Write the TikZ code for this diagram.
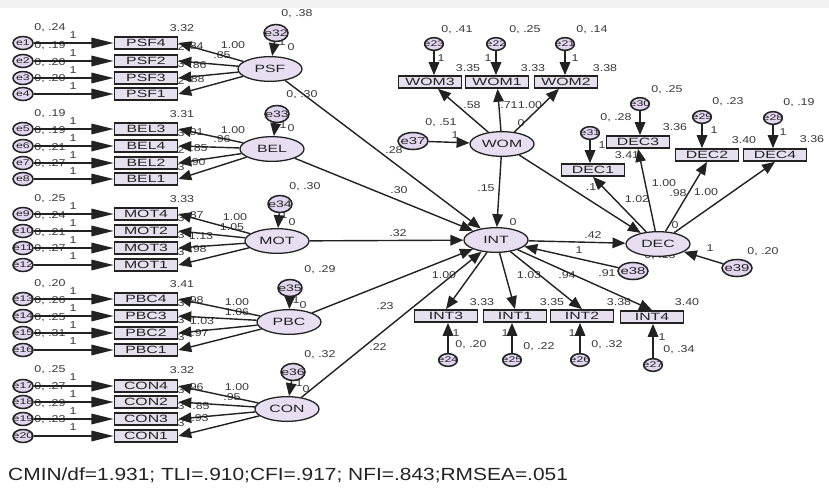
\documentclass[tikz,border=0pt]{standalone}
\usepackage{fontspec}
\setmainfont{Liberation Sans}[FakeStretch=1.5]
\newfontfamily\labfont{Liberation Sans}[FakeStretch=1.25]
\newfontfamily\footfont{Liberation Sans}[FakeStretch=1.19]
\usetikzlibrary{shapes.geometric,arrows.meta}
\definecolor{latfill}{HTML}{E8DEF2}
\definecolor{boxfill}{HTML}{E6E0EE}
\definecolor{errfill}{HTML}{E2D6EE}
\definecolor{ink}{HTML}{222222}
\definecolor{lab}{HTML}{383838}
\newcommand\zw[1]{\makebox[0pt]{#1}}
\begin{document}
\begin{tikzpicture}[x=0.03cm,y=-0.03cm,
 lat/.style={ellipse,draw=ink,line width=1.1pt,fill=latfill,minimum width=1.92cm,minimum height=0.74cm,inner sep=0pt,font=\fontsize{9}{9}\selectfont,text=ink},
 obs/.style={rectangle,draw=ink,line width=1.5pt,fill=boxfill,minimum width=1.89cm,minimum height=0.36cm,inner sep=0pt,font=\fontsize{9}{9}\selectfont,text=ink},
 err/.style={ellipse,draw=ink,line width=1.3pt,fill=errfill,minimum width=0.6cm,minimum height=0.39cm,inner sep=0pt,font=\fontsize{7}{7}\selectfont,text=ink},
 lerr/.style={err,minimum width=0.72cm,minimum height=0.51cm,font=\fontsize{8}{8}\selectfont},
 berr/.style={err,minimum width=0.9cm,minimum height=0.51cm,font=\fontsize{8.5}{8.5}\selectfont},
 serr/.style={err,minimum width=0.56cm,minimum height=0.38cm},
 lb/.style={inner sep=0pt,font=\labfont\fontsize{8.5}{9}\selectfont,text=lab},
 arr/.style={-{Triangle[length=11pt,width=9pt]},line width=1.2pt,draw=ink},
 harr/.style={-{Triangle[length=19pt,width=9pt]},line width=1.2pt,draw=ink},
]
\useasboundingbox (0,0) rectangle (829,493);
\fill[white] (0,0) rectangle (829,493);
\fill[black!5] (0,0) rectangle (829,8);

% ---------- labels (drawn first) ----------
% PSF group
\node[lb] (l1) at (50,28) {0, .24}; \node[lb] (l1a) at (73,35) {1};
\node[lb] (l2) at (50,46) {0, .19}; \node[lb] (l2a) at (73,53) {1};
\node[lb] (l3) at (50,63) {0, .20}; \node[lb] (l3a) at (73,70) {1};
\node[lb] (l4) at (50,79) {0, .20}; \node[lb] (l4a) at (73,86) {1};
\node[lb] (i1) at (182,28) {3.32};
\node[lb] (d1) at (181,47) {2}; \node[lb] (d2) at (181,64) {3}; \node[lb] (d3) at (181,81) {2};
\node[lb] (p1) at (195,46) {.84}; \node[lb] (p2) at (233,45) {1.00}; \node[lb] (p3) at (222,55) {.85};
\node[lb] (p4) at (198,65) {.86}; \node[lb] (p5) at (196,79) {.88};
\node[lb] (v32) at (297,14) {0, .38}; \node[lb] (o32a) at (282,42) {1}; \node[lb] (o32b) at (291,47) {0};
% BEL group
\node[lb] (l5) at (50,114) {0, .19}; \node[lb] (l5a) at (73,121) {1};
\node[lb] (l6) at (50,131) {0, .19}; \node[lb] (l6a) at (73,138) {1};
\node[lb] (l7) at (50,148) {0, .21}; \node[lb] (l7a) at (73,155) {1};
\node[lb] (l8) at (50,164) {0, .27}; \node[lb] (l8a) at (73,171) {1};
\node[lb] (i2) at (182,114) {3.31};
\node[lb] (d4) at (181,133) {3}; \node[lb] (d5) at (181,150) {2}; \node[lb] (d6) at (181,167) {3};
\node[lb] (p6) at (195,132) {.91}; \node[lb] (p7) at (233,130) {1.00}; \node[lb] (p8) at (222,139) {.96};
\node[lb] (p9) at (199,148) {.85}; \node[lb] (p10) at (197,162) {.90};
\node[lb] (v33) at (302,95) {0, .30}; \node[lb] (o33a) at (283,125) {1}; \node[lb] (o33b) at (291,128) {0};
% MOT group
\node[lb] (l9) at (50,199) {0, .25}; \node[lb] (l9a) at (73,206) {1};
\node[lb] (l10) at (50,216) {0, .24}; \node[lb] (l10a) at (73,223) {1};
\node[lb] (l11) at (50,233) {0, .21}; \node[lb] (l11a) at (73,240) {1};
\node[lb] (l12) at (50,249) {0, .27}; \node[lb] (l12a) at (73,256) {1};
\node[lb] (i3) at (182,199) {3.33};
\node[lb] (d7) at (181,218) {3}; \node[lb] (d8) at (181,235) {3}; \node[lb] (d9) at (181,252) {3};
\node[lb] (p11) at (195,215) {.87}; \node[lb] (p12) at (235,217) {1.00}; \node[lb] (p13) at (232,227) {1.05};
\node[lb] (p14) at (201,236) {1.13}; \node[lb] (p15) at (198,249) {.98};
\node[lb] (v34) at (305,187) {0, .30}; \node[lb] (o34a) at (284,215) {1}; \node[lb] (o34b) at (292,222) {0};
% PBC group
\node[lb] (l13) at (50,284) {0, .20}; \node[lb] (l13a) at (73,291) {1};
\node[lb] (l14) at (50,301) {0, .26}; \node[lb] (l14a) at (73,308) {1};
\node[lb] (l15) at (50,318) {0, .25}; \node[lb] (l15a) at (73,325) {1};
\node[lb] (l16) at (50,334) {0, .31}; \node[lb] (l16a) at (73,341) {1};
\node[lb] (i4) at (182,284) {3.41};
\node[lb] (d10) at (181,303) {3}; \node[lb] (d11) at (181,320) {3}; \node[lb] (d12) at (181,337) {3};
\node[lb] (p16) at (195,300) {.98}; \node[lb] (p17) at (237,302) {1.00}; \node[lb] (p18) at (237,312) {1.06};
\node[lb] (p19) at (202,321) {1.03}; \node[lb] (p20) at (200,333) {.97};
\node[lb] (v35) at (320,270) {0, .29}; \node[lb] (o35a) at (296,300) {1}; \node[lb] (o35b) at (303,305) {0};
% CON group
\node[lb] (l17) at (50,370) {0, .25}; \node[lb] (l17a) at (73,377) {1};
\node[lb] (l18) at (50,387) {0, .27}; \node[lb] (l18a) at (73,394) {1};
\node[lb] (l19) at (50,404) {0, .29}; \node[lb] (l19a) at (73,411) {1};
\node[lb] (l20) at (50,420) {0, .23}; \node[lb] (l20a) at (73,427) {1};
\node[lb] (i5) at (182,370) {3.32};
\node[lb] (d13) at (181,390) {3}; \node[lb] (d14) at (181,406) {3}; \node[lb] (d15) at (181,423) {3};
\node[lb] (p21) at (195,387) {.96}; \node[lb] (p22) at (237,387) {1.00}; \node[lb] (p23) at (232,397) {.95};
\node[lb] (p24) at (201,406) {.85}; \node[lb] (p25) at (200,418) {.93};
\node[lb] (v36) at (320,355) {0, .32}; \node[lb] (o36a) at (299,383) {1}; \node[lb] (o36b) at (306,389) {0};
% structural paths
\node[lb] (c1) at (399,190) {.30};
\node[lb] (c2) at (398,233) {.32};
\node[lb] (c3) at (385,306) {.23};
\node[lb] (c4) at (378,347) {.22};
% WOM
\node[lb] (v23) at (457,30) {0, .41}; \node[lb] (v22) at (525,30) {0, .25}; \node[lb] (v21) at (592,30) {0, .14};
\node[lb] (o23) at (441,58) {1}; \node[lb] (o22) at (488,58) {1}; \node[lb] (o21) at (575,58) {1};
\node[lb] (i23) at (468,68) {3.35}; \node[lb] (i22) at (533,68) {3.33}; \node[lb] (i21) at (605,68) {3.38};
\node[lb] (w1) at (472,105) {.58}; \node[lb] (w2) at (509,105) {.71}; \node[lb] (w3) at (530,105) {1.00};
\node[lb] (w0) at (521,123) {0};
\node[lb] (v37) at (441,123) {0, .51}; \node[lb] (o37) at (455,135) {1}; \node[lb] (w4) at (394,150) {.28};
\node[lb] (w5) at (486,188) {.15}; \node[lb] (n0) at (513,222) {0};
% INT
\node[lb] (t1) at (444,275) {1.00}; \node[lb] (t2) at (529,275) {1.03}; \node[lb] (t3) at (567,275) {.94};
\node[lb] (t4) at (607,273) {.91};
\node[lb] (j3) at (482,302) {3.33}; \node[lb] (j1) at (552,302) {3.35}; \node[lb] (j2) at (619,302) {3.38};
\node[lb] (j4) at (687,302) {3.40};
\node[lb] (q24) at (456,333) {1}; \node[lb] (q25) at (505,333) {1}; \node[lb] (q26) at (572,333) {1};
\node[lb] (q27) at (662,337) {1};
\node[lb] (v24) at (471,345) {0, .20}; \node[lb] (v25) at (539,347) {0, .22}; \node[lb] (v26) at (607,345) {0, .32};
\node[lb] (v27) at (679,350) {0, .34};
\node[lb] (k1) at (593,235) {.42}; \node[lb] (k2) at (579,250) {1};
% DEC
\node[lb] (v30) at (667,90) {0, .25}; \node[lb] (v31) at (616,118) {0, .28};
\node[lb] (v29) at (728,102) {0, .23}; \node[lb] (v28) at (799,103) {0, .19};
\node[lb] (o31) at (602,145) {1}; \node[lb] (o29) at (714,130) {1}; \node[lb] (o28) at (783,132) {1};
\node[lb] (g3) at (675,127) {3.36}; \node[lb] (g2) at (744,140) {3.40}; \node[lb] (g4) at (812,139) {3.36};
\node[lb] (g1) at (627,155) {3.41};
\node[lb] (h1) at (664,183) {1.00}; \node[lb] (h2) at (678,193) {.98}; \node[lb] (h3) at (706,192) {1.00};
\node[lb] (h4) at (637,199) {1.02}; \node[lb] (h5) at (591,187) {.1};
\node[lb] (h6) at (675,225) {0};
\node[lb] (v38) at (660,256) {0, .13};
\node[lb] (o39) at (710,248) {1}; \node[lb] (v39) at (763,252) {0, .20};

% ---------- nodes ----------
\node[obs] (PSF4) at (146,43) {PSF4};
\node[obs] (PSF2) at (146,61) {PSF2};
\node[obs] (PSF3) at (146,78) {PSF3};
\node[obs] (PSF1) at (146,94) {PSF1};
\node[obs] (BEL3) at (146,129) {BEL3};
\node[obs] (BEL4) at (146,146) {BEL4};
\node[obs] (BEL2) at (146,163) {BEL2};
\node[obs] (BEL1) at (146,179) {BEL1};
\node[obs] (MOT4) at (146,214) {MOT4};
\node[obs] (MOT2) at (146,231) {MOT2};
\node[obs] (MOT3) at (146,248) {MOT3};
\node[obs] (MOT1) at (146,265) {MOT1};
\node[obs] (PBC4) at (146,299) {PBC4};
\node[obs] (PBC3) at (146,316) {PBC3};
\node[obs] (PBC2) at (146,333) {PBC2};
\node[obs] (PBC1) at (146,350) {PBC1};
\node[obs] (CON4) at (146,386) {CON4};
\node[obs] (CON2) at (146,402) {CON2};
\node[obs] (CON3) at (146,419) {CON3};
\node[obs] (CON1) at (146,436) {CON1};

\node[err] (e1) at (23,43) {\zw{e1}};
\node[err] (e2) at (23,61) {\zw{e2}};
\node[err] (e3) at (23,78) {\zw{e3}};
\node[err] (e4) at (23,94) {\zw{e4}};
\node[err] (e5) at (23,129) {\zw{e5}};
\node[err] (e6) at (23,146) {\zw{e6}};
\node[err] (e7) at (23,163) {\zw{e7}};
\node[err] (e8) at (23,179) {\zw{e8}};
\node[err] (e9) at (23,214) {\zw{e9}};
\node[err] (e10) at (23,231) {\zw{e10}};
\node[err] (e11) at (23,248) {\zw{e11}};
\node[err] (e12) at (23,265) {\zw{e12}};
\node[err] (e13) at (23,299) {\zw{e13}};
\node[err] (e14) at (23,316) {\zw{e14}};
\node[err] (e15) at (23,333) {\zw{e15}};
\node[err] (e16) at (23,350) {\zw{e16}};
\node[err] (e17) at (23,386) {\zw{e17}};
\node[err] (e18) at (23,402) {\zw{e18}};
\node[err] (e19) at (23,419) {\zw{e19}};
\node[err] (e20) at (23,436) {\zw{e20}};

\node[lat] (PSF) at (270,69) {\zw{PSF}};
\node[lat] (BEL) at (272,149) {\zw{BEL}};
\node[lat] (MOT) at (277,241) {\zw{MOT}};
\node[lat] (PBC) at (289,322) {\zw{PBC}};
\node[lat] (CON) at (287,409) {\zw{CON}};
\node[lerr] (e32) at (276,33) {\zw{e32}};
\node[lerr] (e33) at (277,114) {\zw{e33}};
\node[lerr] (e34) at (280,204) {\zw{e34}};
\node[lerr] (e35) at (290,288) {\zw{e35}};
\node[lerr] (e36) at (293,372) {\zw{e36}};

\node[lat] (WOM) at (502,144) {\zw{WOM}};
\node[lat] (INT) at (496,240) {\zw{INT}};
\node[lat] (DEC) at (658,244) {\zw{DEC}};
\node[obs] (WOM3) at (430,82) {WOM3};
\node[obs] (WOM1) at (497,82) {WOM1};
\node[obs] (WOM2) at (566,82) {WOM2};
\node[serr] (e23) at (434,44) {\zw{e23}};
\node[serr] (e22) at (496,44) {\zw{e22}};
\node[serr] (e21) at (565,44) {\zw{e21}};
\node[berr] (e37) at (413,141) {\zw{e37}};

\node[obs] (INT3) at (446,316) {INT3};
\node[obs] (INT1) at (515,316) {INT1};
\node[obs] (INT2) at (582,316) {INT2};
\node[obs] (INT4) at (652,317) {INT4};
\node[serr] (e24) at (448,360) {\zw{e24}};
\node[serr] (e25) at (512,360) {\zw{e25}};
\node[serr] (e26) at (580,360) {\zw{e26}};
\node[serr] (e27) at (653,365) {\zw{e27}};
\node[berr] (e38) at (633,271) {\zw{e38}};
\node[berr] (e39) at (737,268) {\zw{e39}};

\node[obs] (DEC1) at (593,170) {DEC1};
\node[obs] (DEC3) at (638,142) {DEC3};
\node[obs] (DEC2) at (707,155) {DEC2};
\node[obs] (DEC4) at (775,155) {DEC4};
\node[serr] (e31) at (590,133) {\zw{e31}};
\node[serr] (e30) at (640,104) {\zw{e30}};
\node[serr] (e29) at (702,117) {\zw{e29}};
\node[serr] (e28) at (773,118) {\zw{e28}};

% ---------- connectors ----------
\foreach \e/\b in {e1/PSF4,e2/PSF2,e3/PSF3,e4/PSF1,e5/BEL3,e6/BEL4,e7/BEL2,e8/BEL1,
  e9/MOT4,e10/MOT2,e11/MOT3,e12/MOT1,e13/PBC4,e14/PBC3,e15/PBC2,e16/PBC1,
  e17/CON4,e18/CON2,e19/CON3,e20/CON1}
  \draw[harr] (\e) -- (\b.west);
\foreach \l/\b in {PSF/PSF4,PSF/PSF2,PSF/PSF3,PSF/PSF1,BEL/BEL3,BEL/BEL4,BEL/BEL2,BEL/BEL1,
  MOT/MOT4,MOT/MOT2,MOT/MOT3,MOT/MOT1,PBC/PBC4,PBC/PBC3,PBC/PBC2,PBC/PBC1,
  CON/CON4,CON/CON2,CON/CON3,CON/CON1}
  \draw[arr] (\l) -- (\b.east);
\foreach \e/\l in {e32/PSF,e33/BEL,e34/MOT,e35/PBC,e36/CON}
  \draw[arr] (\e) -- (\l);
\foreach \l in {PSF,BEL,MOT,PBC,CON}
  \draw[arr] (\l) -- (INT);

\foreach \e/\b in {e23/WOM3,e22/WOM1,e21/WOM2}
  \draw[arr] (\e) -- (\e |- \b.north);
\foreach \b in {WOM3,WOM1,WOM2}
  \draw[arr] (WOM) -- (\b);
\draw[arr] (e37) -- (WOM);
\draw[arr] (WOM) -- (INT);
\draw[arr] (WOM) -- (DEC);

\foreach \b in {INT3,INT1,INT2,INT4}
  \draw[arr] (INT) -- (\b.north);
\foreach \e/\b in {e24/INT3,e25/INT1,e26/INT2,e27/INT4}
  \draw[arr] (\e) -- (\e |- \b.south);
\draw[arr] (e38) -- (INT);
\draw[arr] (INT) -- (DEC);
\draw[arr] (e39) -- (DEC);

\foreach \b in {DEC1,DEC3,DEC2,DEC4}
  \draw[arr] (DEC) -- (\b.south);
\foreach \e/\b in {e31/DEC1,e30/DEC3,e29/DEC2,e28/DEC4}
  \draw[arr] (\e) -- (\e |- \b.north);

% ---------- fit line ----------
\node[anchor=west,inner sep=0pt,text=ink] (fit) at (8,475)
  {\footfont\fontsize{15}{18}\selectfont CMIN/df=1.931; TLI=.910;CFI=.917; NFI=.843;RMSEA=.051};
\end{tikzpicture}
\end{document}
